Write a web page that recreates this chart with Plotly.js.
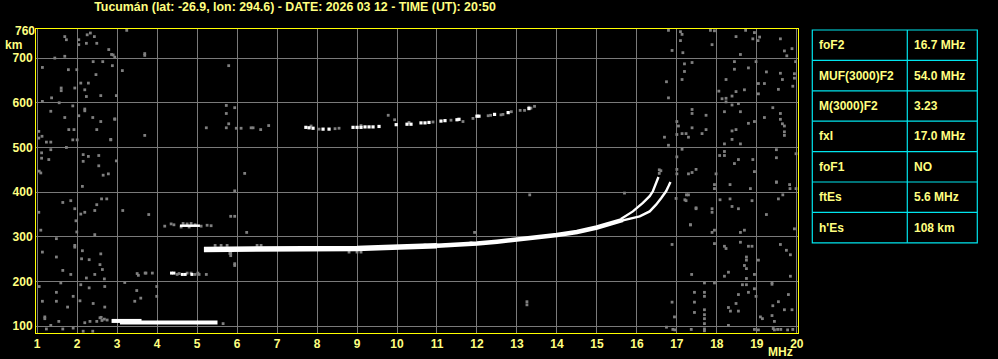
<!DOCTYPE html>
<html>
<head>
<meta charset="utf-8">
<script src="https://cdn.plot.ly/plotly-3.0.1.min.js"></script>
<style>html,body{margin:0;padding:0;background:#000;}#chart{width:998px;height:359px;}</style>
</head>
<body>
<div id="chart"></div>
<script>
// ---------- data ----------
const titleText = 'Tucumán (lat: -26.9, lon: 294.6) - DATE: 2026 03 12 - TIME (UT): 20:50';
const freqTicks = [1,2,3,4,5,6,7,8,9,10,11,12,13,14,15,16,17,18,19,20];
const heightTicks = [100,200,300,400,500,600,700];
const topHeightTick = [760];

// sporadic E trace (~108 km)
const esLowX = [3.07, 3.6, 4.2, 4.8, 5.51];
const esLowY = [108.5, 108.5, 108.5, 108.5, 108.5];
const esLowUpperX = [2.86, 3.2, 3.61];
const esLowUpperY = [112, 112, 112];
// higher Es-like echoes
const es325X = [4.57, 4.7, 4.85, 5.07];
const es325Y = [325, 325, 325, 325];
const es220X = [4.36, 4.42, 4.63, 4.7, 4.87];
const es220Y = [219, 219, 216, 216, 216];

// F trace (common band before split): low, thick part and rising part
const fBandLowX = [5.17, 6, 7, 8, 9, 9.7, 10.5, 11];
const fBandLowY = [272, 272, 272, 272, 274, 276, 278, 280];
const fBandHighX = [11, 11.5, 12, 12.5, 13, 13.5, 14, 14.5, 15, 15.4, 15.65];
const fBandHighY = [280, 282, 285, 289, 295, 299, 304, 311, 321, 330, 338];
// ordinary branch
const fOX = [15.6, 15.9, 16.15, 16.32, 16.4, 16.47, 16.5, 16.54];
const fOY = [340, 357, 376, 391, 402, 417, 424, 434];
// extraordinary branch
const fXX = [15.65, 16.07, 16.32, 16.48, 16.61, 16.73, 16.79, 16.84];
const fXY = [337, 346, 357, 372, 387, 402, 413, 423];

// second-hop echoes (~540-590 km)
const hop2WhiteX = [7.72, 7.8, 7.9, 8.15, 8.3, 8.9, 9.0, 9.1, 9.2, 9.3, 9.4, 9.55, 9.98, 10.25, 10.35, 10.6, 10.7, 10.8, 11.1, 11.2, 11.5, 11.55, 12.0, 12.05, 12.44, 12.78, 13.3];
const hop2WhiteY = [545, 544, 543, 541, 541, 545, 545, 545, 546, 546, 546, 547, 551, 552, 552, 555, 555, 556, 559, 560, 562, 563, 570, 570, 574, 578, 587];
const echoGrayX = [5.98, 6.1, 6.35, 6.4, 6.59, 6.79, 7.85, 8.05, 8.45, 8.55, 9.1, 9.94, 10.3, 10.9, 11.35, 11.65, 11.9, 12.28, 12.34, 12.6, 12.65, 12.86, 13.08, 13.19, 13.3, 13.35, 13.44, 9.78,
  4.35, 4.42, 4.65, 4.75, 4.85, 4.95, 5.25, 5.35, 4.6, 4.8, 5.1, 4.19,
  3.5, 3.53, 3.7, 3.72, 3.88, 4.5, 4.55, 4.75, 4.85, 4.95, 5.02, 5.05, 5.23,
  5.45, 5.6, 5.75, 6.5, 6.6, 8.8, 9.0, 9.1, 10.7, 11.0, 11.2, 11.85, 5.82,
  2.6, 2.62, 2.68, 2.75, 16.56, 16.56];
const echoGrayY = [543, 543, 544, 544, 540, 549, 548, 541, 542, 543, 549, 562, 556, 557, 561, 558, 565, 571, 572, 573, 574, 580, 583, 583, 590, 588, 592, 572,
  329, 327, 330, 329, 330, 327, 326, 325, 322, 322, 324, 324,
  218, 214, 219, 219, 219, 216, 218, 219, 219, 216, 219, 216, 216,
  281, 281, 281, 281, 281, 266, 266, 266, 282, 282, 282, 287, 263,
  120, 113, 116, 114, 442, 450];

// background noise dots
const noiseX = [1.69,1.73,2.25,2.33,2.43,2.04,2.23,2.49,2.04,2.79,2.9,1.44,1.69,1.13,1.78,1.99,2.4,2.64,2.47,2.28,2.09,1.6,1.6,1.94,2.19,2.23,2.59,1.36,1.13,1.55,1.89,2.19,2.19,1.34,2.04,1.69,2.39,2.59,2.94,1.79,1.92,2.49,1.04,1.04,1.12,1.89,2.0,2.84,1.23,1.34,1.73,1.34,1.11,1.11,1.29,2.15,2.28,2.54,2.15,2.54,1.05,1.09,2.65,2.78,2.13,1.64,1.84,2.61,2.74,2.49,1.94,2.19,2.09,2.44,1.04,1.97,1.09,1.99,2.44,1.48,1.94,1.94,2.13,1.13,2.59,1.48,2.11,2.3,2.57,2.63,1.64,1.84,2.44,2.23,2.68,1.59,2.09,1.05,2.3,2.69,1.48,1.9,1.13,1.48,2.07,1.76,2.4,2.69,1.19,1.19,1.54,2.19,2.32,2.49,2.57,1.34,1.64,1.9,1.23,2.15,2.39,
  3.24,2.86,3.69,3.69,2.94,2.88,3.13,5.79,2.98,5.73,5.94,5.73,2.94,5.79,5.23,5.73,3.69,2.84,2.98,6.19,
  5.94,3.14,3.79,5.84,5.94,6.24,5.84,5.84,5.94,5.94,3.19,3.49,3.99,3.59,3.44,3.99,5.65,
  13.25,13.25,13.32,15.69,11.94,
  16.79,17.09,17.13,17.84,17.94,18.48,18.72,18.94,19.07,18.9,19.03,19.59,17.09,17.88,16.88,17.15,18.59,19.69,19.75,19.88,17.38,17.19,18.44,18.98,19.97,18.79,17.19,18.44,19.24,19.59,19.94,18.23,17.13,16.74,19.94,19.64,19.04,19.19,19.9,18.69,18.05,18.48,19.54,18.38,18.13,18.23,16.79,19.04,18.23,18.38,18.54,19.4,17.38,17.38,18.19,18.59,17.73,19.19,19.59,19.59,17.0,17.04,18.79,18.94,19.64,17.38,17.73,18.48,18.38,19.69,19.69,17.13,17.23,17.63,16.69,17.0,17.29,18.38,19.69,18.19,18.59,16.79,17.13,18.19,18.07,19.49,18.19,18.54,18.9,19.49,19.98,17.0,18.44,16.6,17.0,17.48,17.38,17.29,17.0,18.94,17.98,19.49,
  17.94,17.94,18.33,18.84,19.49,19.82,19.98,17.29,17.23,18.08,18.33,18.88,19.54,19.65,19.83,18.38,18.54,17.48,17.88,17.88,19.24,17.34,17.94,17.88,18.59,18.69,19.94,16.88,17.94,18.59,18.19,18.23,18.79,18.88,19.59,19.74,19.84,18.74,19.04,18.74,18.69,18.74,18.29,18.94,17.37,18.19,18.74,19.84,19.38,19.38,17.69,17.94,18.64,18.74,18.94,17.44,17.69,18.79,18.54,18.98,17.69,19.79,16.88,17.44,19.54,18.48,19.4,18.29,17.69,19.69,19.88,18.34,17.44,18.54,17.69,16.94,19.09,19.38,19.14,17.69,19.44,18.29,17.69,
  16.74,16.9,16.95,17.36,17.69,17.69,18.94,19.04,19.41,19.44,19.52,19.6,19.77,19.9,17.2,17.24,17.34,17.48,16.98];
const noiseY = [748,741,752,756,748,741,733,733,730,719,707,700,704,679,674,674,692,692,663,644,644,633,627,633,629,614,616,611,603,600,593,586,582,581,571,567,567,558,564,540,540,540,536,521,525,517,517,517,512,512,500,495,488,476,473,484,480,482,469,459,447,443,438,441,413,377,381,385,385,372,363,355,351,359,355,336,315,311,305,296,277,281,269,266,262,255,251,249,238,227,225,216,216,208,206,197,193,189,186,189,176,167,156,156,157,143,151,143,117,121,111,108,111,111,119,102,94,96,94,89,89,
  762,708,710,706,702,683,672,683,616,594,589,576,563,553,544,544,527,518,470,442,
  403,359,350,346,346,310,263,258,240,236,198,180,189,163,156,167,106,
  155,148,394,398,310,
  762,759,753,762,761,748,762,757,747,743,739,743,739,730,717,712,708,716,705,721,690,687,692,692,692,678,670,675,669,666,665,652,652,647,655,652,643,643,637,629,626,625,630,615,609,610,611,620,602,595,598,589,585,576,580,580,572,567,576,563,558,548,554,558,553,544,540,540,537,548,535,531,531,531,523,529,523,518,527,508,508,505,496,491,482,495,482,473,473,477,486,479,464,448,451,451,444,441,441,446,441,423,
  417,408,417,408,422,417,408,394,381,383,385,381,385,394,408,368,363,363,363,355,350,327,315,310,310,315,318,283,285,288,279,274,279,279,283,270,260,255,248,248,236,229,221,216,216,212,207,212,198,194,197,197,193,193,184,176,176,176,171,167,167,171,154,154,155,151,146,142,137,137,137,134,131,134,126,121,121,124,117,117,111,102,106,
  98,93,92,93,94,90,93,92,95,92,93,93,92,93,383,394,327,365,386];

// parameter table
const tableLabels = ['foF2', 'MUF(3000)F2', 'M(3000)F2', 'fxI', 'foF1', 'ftEs', "h'Es"];
const tableValues = ['16.7 MHz', '54.0 MHz', '3.23', '17.0 MHz', 'NO', '5.6 MHz', '108 km'];

// ---------- styling / layout ----------
const W = 998, H = 359;
const M = {l: 36, r: 200, t: 29, b: 26};
const PW = W - M.l - M.r, PH = H - M.t - M.b;
const px2x = p => (p - M.l) / PW;
const py2y = p => (H - M.b - p) / PH;
const txtColor = '#ffff80';
const fontFam = 'Liberation Sans, Arial, sans-serif';
const yRange = [85, 765];
const xRange = [0.97, 20.03];

function line(x, y, w, c) {
  return {type: 'scatter', mode: 'lines', x: x, y: y, line: {color: c || '#ffffff', width: w}, hoverinfo: 'skip'};
}
function dots(x, y, s, c, yax) {
  return {type: 'scatter', mode: 'markers', x: x, y: y, yaxis: yax || 'y',
    marker: {symbol: 'square', size: s, color: c, line: {width: 0}}, hoverinfo: 'skip'};
}

const traces = [
  dots(noiseX, noiseY, 2.8, '#7f7f7f', 'y2'),
  dots(echoGrayX, echoGrayY, 2.8, '#7f7f7f'),
  line(esLowUpperX, esLowUpperY, 4),
  line(esLowX, esLowY, 4),
  line(es325X, es325Y, 2.5),
  dots(es220X, es220Y, 3, '#ffffff'),
  line(fBandLowX, fBandLowY, 5.5),
  line(fBandHighX, fBandHighY, 4.5),
  line(fOX, fOY, 2.4),
  line(fXX, fXY, 2.4),
  dots(hop2WhiteX, hop2WhiteY, 3.2, '#ffffff')
];

const shapes = [];
const annotations = [];
const tblL = 812.3, tblM = 907.3, tblR = 977.3, tblT = 30, rowH = 30.4;
const tblB = tblT + rowH * tableLabels.length;
const cyan = '#00e5ee';
shapes.push({type: 'rect', xref: 'paper', yref: 'paper', x0: px2x(tblL), x1: px2x(tblR), y0: py2y(tblT), y1: py2y(tblB), line: {color: cyan, width: 1.2}, fillcolor: 'rgba(0,0,0,0)'});
shapes.push({type: 'line', xref: 'paper', yref: 'paper', x0: px2x(tblM), x1: px2x(tblM), y0: py2y(tblT), y1: py2y(tblB), line: {color: cyan, width: 1.2}});
for (let i = 1; i < tableLabels.length; i++) {
  const yy = py2y(tblT + rowH * i);
  shapes.push({type: 'line', xref: 'paper', yref: 'paper', x0: px2x(tblL), x1: px2x(tblR), y0: yy, y1: yy, line: {color: cyan, width: 1.2}});
}
tableLabels.forEach((lab, i) => {
  const yc = py2y(tblT + rowH * (i + 0.5));
  annotations.push({xref: 'paper', yref: 'paper', x: px2x(tblL + 5), y: yc, xanchor: 'left', yanchor: 'middle', text: '<b>' + lab + '</b>', showarrow: false, font: {family: fontFam, size: 12, color: txtColor}});
  annotations.push({xref: 'paper', yref: 'paper', x: px2x(tblM + 5), y: yc, xanchor: 'left', yanchor: 'middle', text: '<b>' + tableValues[i] + '</b>', showarrow: false, font: {family: fontFam, size: 12, color: txtColor}});
});
annotations.push({xref: 'paper', yref: 'paper', x: px2x(13.5), y: py2y(45), xanchor: 'center', yanchor: 'middle', text: '<b>km</b>', showarrow: false, font: {family: fontFam, size: 12, color: txtColor}});
annotations.push({xref: 'paper', yref: 'paper', x: px2x(780), y: py2y(352), xanchor: 'center', yanchor: 'middle', text: '<b>MHz</b>', showarrow: false, font: {family: fontFam, size: 12, color: txtColor}});

const tickFont = {family: fontFam, size: 12, color: txtColor, weight: 'bold'};
const layout = {
  width: W, height: H,
  margin: {l: M.l, r: M.r, t: M.t, b: M.b, pad: 0},
  paper_bgcolor: '#000000', plot_bgcolor: '#000000',
  showlegend: false,
  font: {family: fontFam, size: 12, color: txtColor},
  title: {text: '<b>' + titleText + '</b>', x: 295 / W, xanchor: 'center', xref: 'container', y: 1 - 7 / H, yanchor: 'middle', yref: 'container', font: {family: fontFam, size: 12.4, color: txtColor}},
  xaxis: {range: xRange, tickmode: 'array', tickvals: freqTicks, ticktext: freqTicks.map(String), ticks: '', showgrid: true, gridcolor: '#7a7a7a', gridwidth: 1, zeroline: false, showline: true, linecolor: '#ffff00', linewidth: 1, mirror: true, tickfont: tickFont, fixedrange: true},
  yaxis: {range: yRange, tickmode: 'array', tickvals: heightTicks, ticktext: heightTicks.map(String), ticks: '', showgrid: true, gridcolor: '#7a7a7a', gridwidth: 1, zeroline: false, showline: true, linecolor: '#ffff00', linewidth: 1, mirror: true, tickfont: tickFont, fixedrange: true},
  yaxis2: {range: yRange, overlaying: 'y', side: 'left', tickmode: 'array', tickvals: topHeightTick, ticktext: topHeightTick.map(String), ticks: '', showgrid: false, zeroline: false, showline: false, tickfont: tickFont, fixedrange: true},
  shapes: shapes,
  annotations: annotations
};

Plotly.newPlot('chart', traces, layout, {staticPlot: true, displayModeBar: false});
</script>
</body>
</html>
